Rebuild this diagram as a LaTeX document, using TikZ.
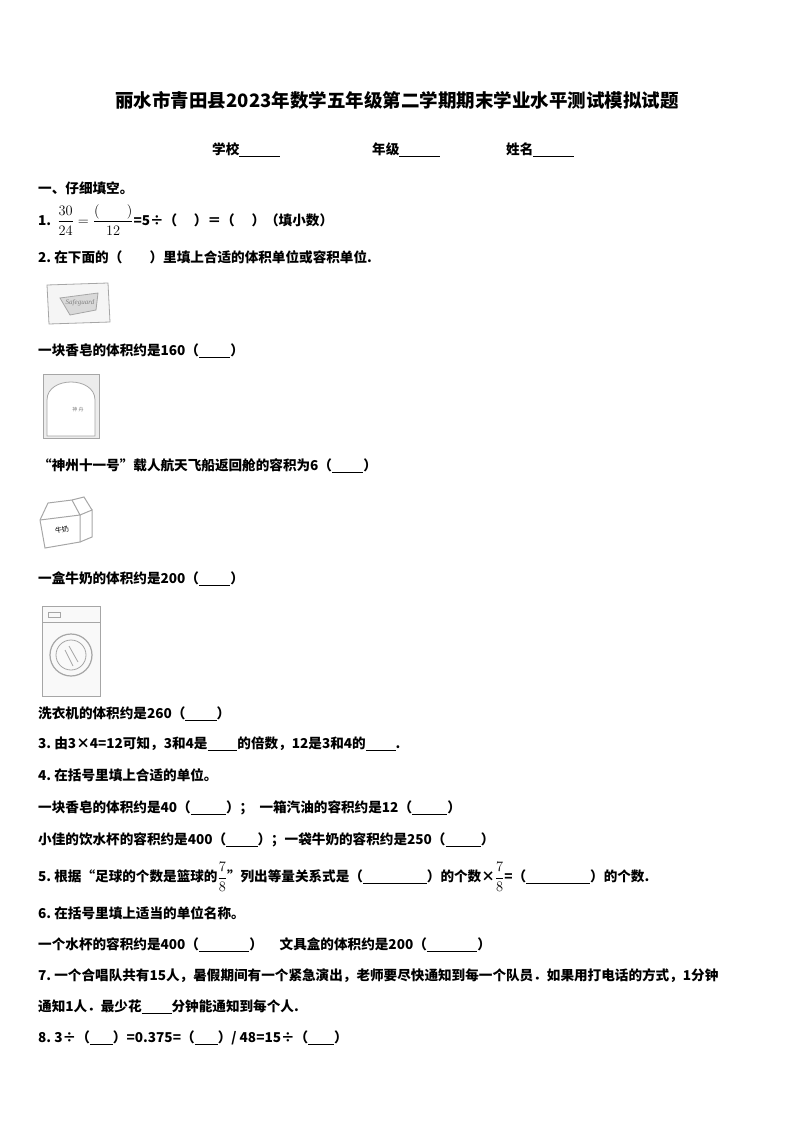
\documentclass[tikz,border=0pt]{standalone}
\usepackage{amsmath}
\usepackage{fontspec}
\setmainfont{Liberation Serif}
\newfontfamily\cjk{Noto Sans CJK SC}
\begin{document}
\begin{tikzpicture}[x=1pt,y=-1pt,
  ln/.style={anchor=west,inner sep=0pt,font=\cjk\bfseries\fontsize{13.6}{14}\selectfont},
  pic/.style={draw=gray!70,line width=0.8pt}]
\useasboundingbox (0,0) rectangle (794,1123);
\node[anchor=center,inner sep=0pt,font=\cjk\bfseries\fontsize{18.5}{19}\selectfont] (title) at (397,100) {丽水市青田县2023年数学五年级第二学期期末学业水平测试模拟试题};
\node[ln] (s1) at (212,150) {学校\underline{\hspace{3em}}};
\node[ln] (s2) at (372,150) {年级\underline{\hspace{3em}}};
\node[ln] (s3) at (506,150) {姓名\underline{\hspace{3em}}};
\node[ln] (h1) at (38,188) {一、仔细填空。};
\node[ln] (q1) at (38,220) {1.\ \ $\dfrac{30}{24}=\dfrac{(\qquad)}{12}$=5÷（\quad\ ）＝（\quad\ ）（填小数）};
\node[ln] (q2) at (38,257) {2.\ 在下面的（\qquad）里填上合适的体积单位或容积单位.};
% soap
\draw[pic,fill=gray!8] (47,285) -- (108,283) -- (110,322) -- (49,324) -- cycle;
\draw[pic,fill=gray!30] (60,298) -- (98,293) -- (96,310) -- (70,315) -- cycle;
\node[font=\scriptsize\itshape,gray] (soapt) at (80,303) {Safeguard};
\node[ln] (t1) at (38,351) {一块香皂的体积约是160（\underline{\hspace{2.3em}}）};
% capsule
\draw[pic,fill=gray!15] (43,374) rectangle (99,438);
\draw[pic,fill=white] (47,436) -- (47,400) .. controls (47,376) and (95,376) .. (95,400) -- (95,436) -- cycle;
\node[font=\cjk\tiny,gray] (capt) at (78,410) {神\ 舟};
\node[ln] (t2) at (38,466) {“神州十一号”载人航天飞船返回舱的容积为6（\underline{\hspace{2.3em}}）};
% milk carton
\draw[pic,line width=1pt] (40,520) -- (48,503) -- (72,500) -- (80,515) -- (40,520);
\draw[pic,line width=1pt] (40,520) -- (45,548) -- (80,542) -- (80,515);
\draw[pic,line width=1pt] (80,515) -- (92,510) -- (92,537) -- (80,542);
\draw[pic,line width=1pt] (72,500) -- (84,497) -- (92,510);
\node[font=\cjk\scriptsize,rotate=10] (milk) at (62,530) {牛奶};
\node[ln] (t3) at (38,579) {一盒牛奶的体积约是200（\underline{\hspace{2.3em}}）};
% washer
\draw[pic,line width=1pt,fill=gray!5] (42,606) rectangle (100,696);
\draw[pic] (42,622) -- (100,622);
\draw[pic] (48,612) rectangle (60,617);
\draw[pic,line width=1.2pt] (71,655) circle (21);
\draw[pic] (71,655) circle (15);
\draw[pic] (65,650) -- (73,666);
\draw[pic] (69,646) -- (78,662);
\node[ln] (t4) at (38,714) {洗衣机的体积约是260（\underline{\hspace{2.3em}}）};
\node[ln] (q3) at (38,744) {3.\ 由3×4=12可知，3和4是\underline{\hspace{2.2em}}的倍数，12是3和4的\underline{\hspace{2.2em}}.};
\node[ln] (q4) at (38,775) {4.\ 在括号里填上合适的单位。};
\node[ln] (q4a) at (38,808) {一块香皂的体积约是40（\underline{\hspace{2.6em}}）；\ \ 一箱汽油的容积约是12（\underline{\hspace{2.6em}}）};
\node[ln] (q4b) at (38,840) {小佳的饮水杯的容积约是400（\underline{\hspace{2.3em}}）；一袋牛奶的容积约是250（\underline{\hspace{2.6em}}）};
\node[ln] (q5) at (38,877) {5.\ 根据“足球的个数是篮球的$\dfrac{7}{8}$”列出等量关系式是（\underline{\hspace{4.7em}}）的个数×$\dfrac{7}{8}$=（\underline{\hspace{4.7em}}）的个数.};
\node[ln] (q6) at (38,913) {6.\ 在括号里填上适当的单位名称。};
\node[ln] (q6a) at (38,945) {一个水杯的容积约是400（\underline{\hspace{3.7em}}）\quad\ 文具盒的体积约是200（\underline{\hspace{3.7em}}）};
\node[ln] (q7) at (38,976) {7.\ 一个合唱队共有15人，暑假期间有一个紧急演出，老师要尽快通知到每一个队员．如果用打电话的方式，1分钟};
\node[ln] (q7b) at (38,1007) {通知1人．最少花\underline{\hspace{2.2em}}分钟能通知到每个人.};
\node[ln] (q8) at (38,1038) {8.\ 3÷（\underline{\hspace{1.7em}}）=0.375=（\underline{\hspace{1.7em}}）/ 48=15÷（\underline{\hspace{1.9em}}）};
\end{tikzpicture}
\end{document}
